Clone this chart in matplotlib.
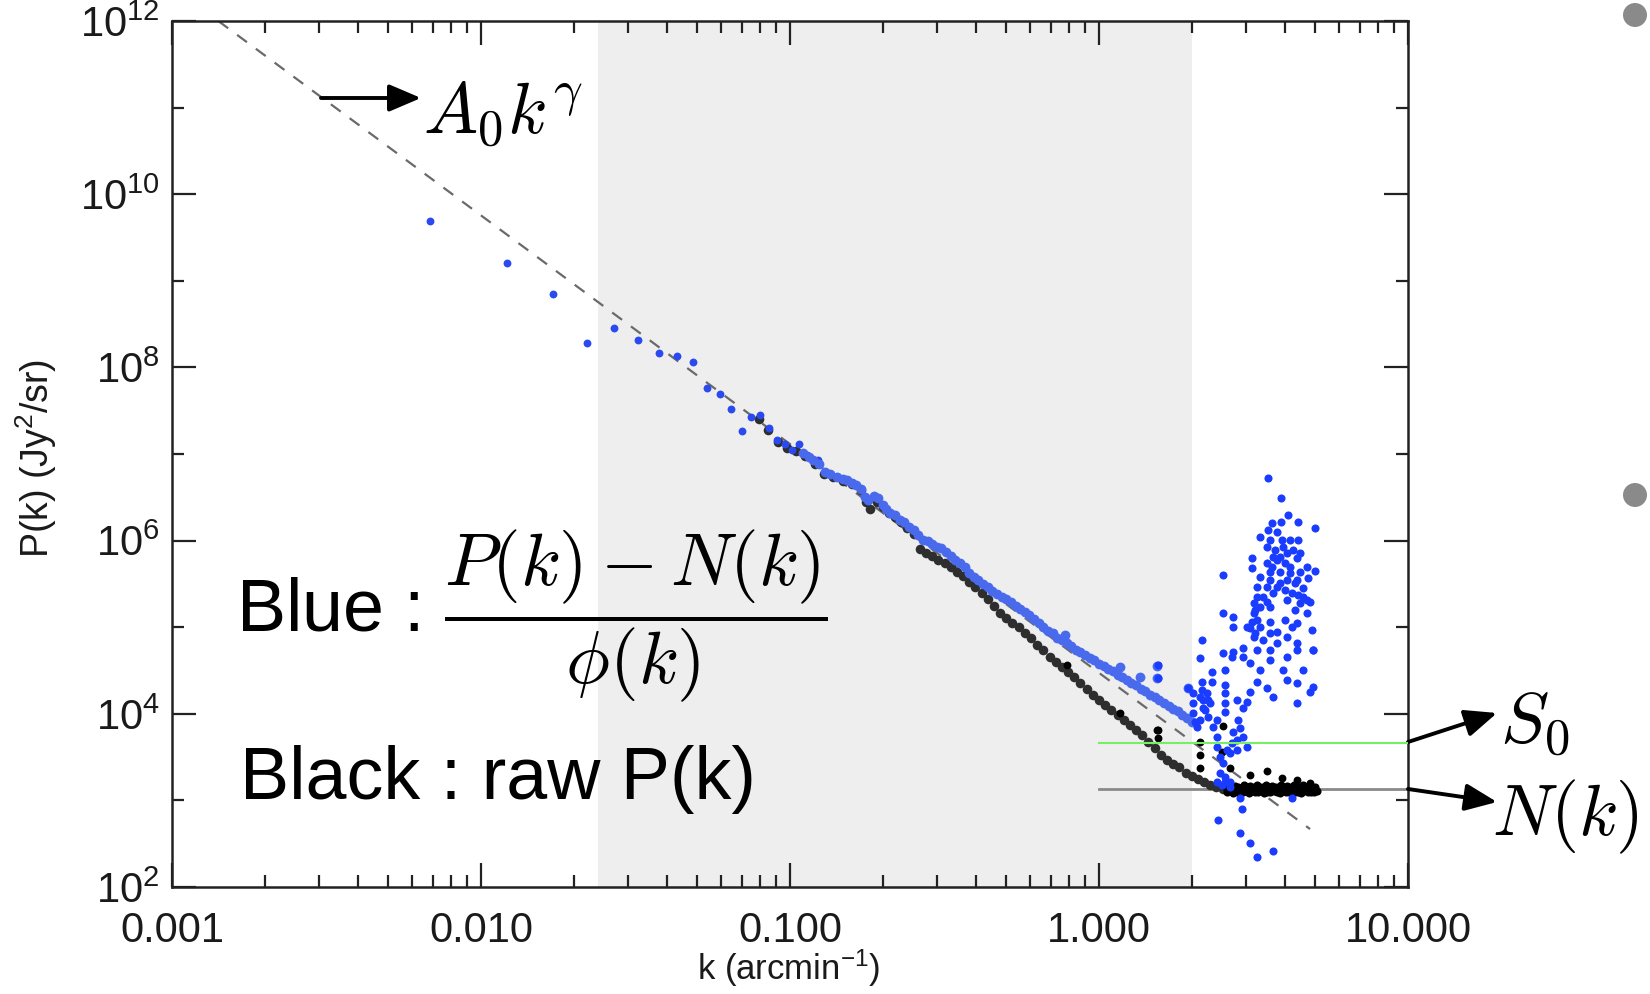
import numpy as np
import matplotlib.pyplot as plt
from matplotlib.ticker import FixedLocator, NullFormatter
from matplotlib.patches import Ellipse

# ---- data (log10 k, log10 P) ----
blue_low_lk = [-2.165, -1.915, -1.766, -1.658, -1.570, -1.491, -1.423, -1.365, -1.315,
               -1.270, -1.227, -1.190, -1.156, -1.126, -1.097, -1.068, -1.041, -1.016,
               -0.995, -0.972, -0.946, -0.925, -0.908]
blue_low_lp = [9.690, 9.202, 8.844, 8.278, 8.451, 8.316, 8.170, 8.135, 8.062,
               7.766, 7.689, 7.516, 7.266, 7.424, 7.450, 7.304, 7.162, 7.115,
               7.046, 7.115, 6.988, 6.931, 6.931]

blue_track_lk = [-0.957, -0.940, -0.925, -0.905, -0.887, -0.870, -0.849, -0.830, -0.815, -0.800,
                 -0.785, -0.770, -0.758, -0.748, -0.728, -0.714, -0.700, -0.690, -0.675, -0.660,
                 -0.645, -0.630, -0.615, -0.600, -0.585, -0.570, -0.555, -0.540, -0.525, -0.510,
                 -0.495, -0.480, -0.465, -0.450, -0.435, -0.420, -0.405, -0.390, -0.375, -0.360,
                 -0.345, -0.330, -0.315, -0.300, -0.285, -0.270, -0.255, -0.240, -0.225, -0.210,
                 -0.195, -0.180, -0.165, -0.150, -0.135, -0.120, -0.105, -0.090, -0.075, -0.060,
                 -0.045, -0.030, -0.015, 0.000, 0.015, 0.030, 0.045, 0.060, 0.075, 0.090,
                 0.105, 0.120, 0.135, 0.150, 0.165, 0.180, 0.195, 0.210, 0.225, 0.240,
                 0.255, 0.270, 0.285, 0.300,
                 -0.110, 0.068, 0.133, 0.189, 0.189, 0.289]
blue_track_lp = [7.01, 6.97, 6.93, 6.88, 6.79, 6.77, 6.74, 6.71, 6.70, 6.67,
                 6.64, 6.60, 6.50, 6.47, 6.51, 6.49, 6.41, 6.36, 6.32, 6.29,
                 6.24, 6.21, 6.16, 6.12, 6.07, 6.01, 5.99, 5.96, 5.93, 5.91,
                 5.87, 5.82, 5.78, 5.74, 5.69, 5.63, 5.58, 5.54, 5.50, 5.46,
                 5.42, 5.38, 5.35, 5.33, 5.29, 5.25, 5.21, 5.17, 5.14, 5.10,
                 5.05, 5.00, 4.96, 4.93, 4.88, 4.85, 4.82, 4.78, 4.74, 4.71,
                 4.68, 4.65, 4.62, 4.58, 4.55, 4.52, 4.49, 4.45, 4.42, 4.39,
                 4.36, 4.33, 4.29, 4.26, 4.22, 4.19, 4.16, 4.13, 4.09, 4.06,
                 4.03, 3.99, 3.95, 3.91,
                 4.910, 4.544, 4.421, 4.552, 4.410, 4.294]

blue_cloud_lk = [0.546, 0.589, 0.613, 0.645, 0.589, 0.699, 0.548, 0.575, 0.618, 0.645,
                 0.543, 0.570, 0.597, 0.629, 0.494, 0.640, 0.543, 0.575, 0.602, 0.494,
                 0.553, 0.586, 0.618, 0.651, 0.699, 0.402, 0.521, 0.553, 0.586, 0.640,
                 0.677, 0.510, 0.543, 0.602, 0.661, 0.564, 0.645, 0.500, 0.543, 0.607,
                 0.683, 0.505, 0.553, 0.634, 0.672, 0.402, 0.435, 0.510, 0.553, 0.602,
                 0.640, 0.435, 0.489, 0.521, 0.575, 0.624, 0.688, 0.332, 0.500, 0.607,
                 0.640, 0.467, 0.553, 0.402, 0.435, 0.694,
                 0.553, 0.564, 0.586, 0.607, 0.559, 0.618, 0.634, 0.607, 0.532, 0.521,
                 0.500, 0.494, 0.478, 0.505, 0.532, 0.575, 0.553, 0.651, 0.661, 0.521,
                 0.559, 0.651, 0.591, 0.575, 0.624, 0.510, 0.672, 0.672,
                 0.327, 0.365, 0.365, 0.408, 0.408, 0.408, 0.408, 0.408, 0.451, 0.456,
                 0.435, 0.467, 0.478, 0.445, 0.424, 0.402, 0.392, 0.381, 0.408, 0.424,
                 0.456, 0.462, 0.386, 0.456, 0.489, 0.510, 0.564, 0.623, 0.332, 0.332,
                 0.338, 0.343, 0.354, 0.327, 0.316, 0.370, 0.381, 0.381, 0.392, 0.467,
                 0.489, 0.521, 0.553, 0.597, 0.607, 0.640, 0.661, 0.694, 0.683, 0.640,
                 0.564, 0.543, 0.510, 0.489, 0.478, 0.445, 0.467, 0.607, 0.640, 0.694,
                 0.429, 0.510,
                 0.305, 0.305, 0.305, 0.327, 0.348, 0.359, 0.338, 0.311, 0.354, 0.381,
                 0.445, 0.429, 0.413, 0.408, 0.397, 0.424, 0.192, 0.192, 0.289]
blue_cloud_lp = [6.719, 6.488, 6.296, 6.219, 6.219, 6.142, 6.122, 6.103, 6.007, 6.007,
                 5.930, 5.892, 5.930, 5.892, 5.795, 5.795, 5.737, 5.776, 5.737, 5.680,
                 5.641, 5.641, 5.622, 5.641, 5.653, 5.603, 5.584, 5.545, 5.507, 5.545,
                 5.564, 5.468, 5.468, 5.430, 5.449, 5.391, 5.372, 5.276, 5.295, 5.314,
                 5.295, 5.199, 5.237, 5.199, 5.160, 5.160, 5.122, 5.083, 5.064, 5.083,
                 5.045, 4.998, 4.987, 5.006, 4.948, 5.006, 4.968, 4.852, 4.891, 4.891,
                 4.814, 4.756, 4.737, 4.698, 4.717, 4.737,
                 6.007, 5.815, 5.815, 5.853, 5.699, 5.699, 5.507, 5.545, 5.353, 5.237,
                 5.160, 5.064, 5.006, 4.929, 4.852, 4.814, 4.929, 5.276, 5.353, 6.045,
                 6.199, 5.853, 6.007, 5.468, 5.391, 5.353, 5.699, 5.314,
                 4.640, 4.487, 4.371, 4.506, 4.333, 4.236, 4.121, 4.025, 3.928, 3.832,
                 3.794, 3.736, 3.620, 3.582, 3.543, 3.428, 3.312, 3.216, 3.274, 3.159,
                 3.024, 2.897, 2.774, 2.620, 2.504, 2.350, 2.416, 3.024, 4.371, 4.275,
                 4.159, 4.044, 3.967, 3.928, 3.851, 3.851, 3.736, 3.620, 3.505, 4.660,
                 4.583, 4.506, 4.621, 4.506, 4.390, 4.352, 4.506, 4.313, 4.256, 4.121,
                 4.198, 4.294, 4.371, 4.256, 4.140, 4.159, 4.063, 4.660, 4.737, 4.737,
                 4.660, 4.737,
                 4.236, 4.121, 4.005, 4.198, 4.236, 4.121, 4.063, 3.909, 4.159, 3.928,
                 3.697, 3.659, 3.582, 3.216, 3.178, 3.216, 4.564, 4.409, 4.294]

black_track_lk = [-1.10, -1.07, -1.04, -1.01, -0.98, -0.95, -0.92, -0.89, -0.86, -0.83,
                  -0.80, -0.77, -0.755, -0.741, -0.72, -0.70, -0.68, -0.66, -0.64, -0.62,
                  -0.60, -0.58, -0.56, -0.54, -0.52, -0.50, -0.48, -0.46, -0.44, -0.42,
                  -0.40, -0.38, -0.36, -0.34, -0.32, -0.30, -0.28, -0.26, -0.24, -0.22,
                  -0.20, -0.18, -0.16, -0.14, -0.12, -0.10, -0.08, -0.06, -0.04, -0.02,
                  0.00, 0.02, 0.04, 0.06, 0.08, 0.10, 0.12, 0.14, 0.16, 0.18,
                  0.20, 0.22, 0.24, 0.26, 0.28, 0.30, 0.32, 0.34, 0.36, 0.38, 0.40]
black_track_lp = [7.40, 7.28, 7.14, 7.07, 7.03, 6.98, 6.89, 6.77, 6.73, 6.69,
                  6.65, 6.58, 6.44, 6.37, 6.45, 6.39, 6.32, 6.27, 6.21, 6.14,
                  6.08, 5.90, 5.86, 5.82, 5.78, 5.74, 5.69, 5.64, 5.59, 5.52,
                  5.46, 5.39, 5.32, 5.25, 5.16, 5.11, 5.05, 5.00, 4.93, 4.88,
                  4.80, 4.74, 4.66, 4.60, 4.54, 4.48, 4.42, 4.35, 4.29, 4.22,
                  4.16, 4.10, 4.04, 3.99, 3.93, 3.87, 3.81, 3.75, 3.67, 3.60,
                  3.53, 3.47, 3.42, 3.38, 3.32, 3.28, 3.25, 3.21, 3.18, 3.15, 3.13]

black_flat_lk = [0.41, 0.42, 0.43, 0.44, 0.45, 0.46, 0.47, 0.48, 0.49, 0.50,
                 0.51, 0.52, 0.53, 0.54, 0.55, 0.56, 0.57, 0.58, 0.59, 0.60,
                 0.61, 0.62, 0.63, 0.64, 0.65, 0.66, 0.67, 0.68, 0.69, 0.70,
                 0.415, 0.425, 0.435, 0.445, 0.455, 0.465, 0.475, 0.485, 0.495, 0.505,
                 0.515, 0.525, 0.535, 0.545, 0.555, 0.565, 0.575, 0.585, 0.595, 0.605,
                 0.615, 0.625, 0.635, 0.645, 0.655, 0.665, 0.675, 0.685, 0.695, 0.705]
black_flat_lp = [3.16, 3.18, 3.15, 3.17, 3.16, 3.14, 3.18, 3.15, 3.17, 3.15,
                 3.18, 3.16, 3.15, 3.18, 3.16, 3.17, 3.15, 3.16, 3.18, 3.15,
                 3.17, 3.15, 3.18, 3.16, 3.15, 3.18, 3.15, 3.17, 3.16, 3.15,
                 3.10, 3.11, 3.09, 3.10, 3.12, 3.10, 3.11, 3.09, 3.11, 3.10,
                 3.10, 3.12, 3.09, 3.10, 3.10, 3.11, 3.10, 3.09, 3.11, 3.10,
                 3.10, 3.12, 3.10, 3.10, 3.09, 3.11, 3.10, 3.10, 3.10, 3.11]

black_extra_lk = [0.402, 0.327, 0.327, 0.397, 0.192, 0.192, -0.105, 0.068, 0.187,
                  0.327, 0.424, 0.489, 0.543, 0.591, 0.640, 0.683]
black_extra_lp = [3.859, 3.678, 3.524, 3.562, 3.813, 3.717, 4.564, 4.013, 3.813,
                  3.371, 3.371, 3.293, 3.343, 3.255, 3.236, 3.197]

# power-law fit A0 k^gamma
log_A0 = 4.473
gamma = -2.641
fit_k_range = [10 ** -2.85, 10 ** 0.683]

band_k = [0.024, 2.0]          # shaded k range
S0_level = 4640.0              # green line
N_level = 1355.0               # grey noise line
level_k = [1.0, 10.0]

x_ticks = [0.001, 0.01, 0.1, 1.0, 10.0]
x_tick_labels = ['0.001', '0.010', '0.100', '1.000', '10.000']
y_ticks = [1e2, 1e4, 1e6, 1e8, 1e10, 1e12]
y_tick_labels = [r'$\mathregular{10^{%d}}$' % e for e in (2, 4, 6, 8, 10, 12)]

# ---- plotting ----
plt.rcParams['mathtext.fontset'] = 'cm'
plt.rcParams['font.family'] = ['Liberation Sans', 'DejaVu Sans']

W, H = 1650, 994
fig = plt.figure(figsize=(W / 100, H / 100), dpi=100)
ax = fig.add_axes([172 / W, 1 - 887 / H, (1408 - 172) / W, (887 - 21) / H])

ax.axvspan(band_k[0], band_k[1], color='#eeeeee', lw=0, zorder=0)

kf = np.array(fit_k_range)
ax.plot(kf, 10 ** log_A0 * kf ** gamma, ls=(0, (5.5, 5.0)), color='#6a6a6a', lw=1.6, zorder=1)

ax.plot(level_k, [N_level, N_level], color='#8a8a8a', lw=2.0, zorder=1)

ax.scatter(10 ** np.array(black_track_lk), 10 ** np.array(black_track_lp), s=48, c='#2e2e2e', lw=0, zorder=2)
ax.scatter(10 ** np.array(black_flat_lk), 10 ** np.array(black_flat_lp), s=34, c='#000000', lw=0, zorder=2)
ax.scatter(10 ** np.array(black_extra_lk), 10 ** np.array(black_extra_lp), s=32, c='#000000', lw=0, zorder=2)

ax.scatter(10 ** np.array(blue_low_lk), 10 ** np.array(blue_low_lp), s=32, c='#2a4af0', lw=0, zorder=3)
ax.scatter(10 ** np.array(blue_track_lk), 10 ** np.array(blue_track_lp), s=50, c='#4a6aee', lw=0, zorder=3)
ax.scatter(10 ** np.array(blue_cloud_lk), 10 ** np.array(blue_cloud_lp), s=34, c='#1a3cff', lw=0, zorder=3)

ax.plot(level_k, [S0_level, S0_level], color='#77ee66', lw=1.5, zorder=4)

ax.set_xscale('log')
ax.set_yscale('log')
ax.set_xlim(1e-3, 10)
ax.set_ylim(1e2, 1e12)

ax.xaxis.set_major_locator(FixedLocator(x_ticks))
ax.set_xticklabels(x_tick_labels)
ax.xaxis.set_minor_locator(FixedLocator([m * 10.0 ** e for e in range(-3, 1) for m in range(2, 10)]))
ax.xaxis.set_minor_formatter(NullFormatter())
ax.yaxis.set_major_locator(FixedLocator(y_ticks))
ax.set_yticklabels(y_tick_labels)
ax.yaxis.set_minor_locator(FixedLocator(10.0 ** np.arange(3, 12, 2)))
ax.yaxis.set_minor_formatter(NullFormatter())

ax.tick_params(which='both', direction='in', top=True, right=True, width=1.6, color='#222222')
ax.tick_params(which='major', length=17, labelsize=30, labelcolor='#1a1a1a')
ax.tick_params(axis='x', which='major', pad=17)
ax.tick_params(axis='y', which='major', pad=9)
ax.tick_params(which='minor', length=8.5)
for sp in ax.spines.values():
    sp.set_linewidth(1.8)
    sp.set_color('#222222')

ax.set_xlabel(r'k (arcmin$\mathregular{^{-1}}$)', fontsize=25, color='#1a1a1a')
ax.set_ylabel(r'P(k) (Jy$\mathregular{^{2}}$/sr)', fontsize=27, color='#1a1a1a')
ax.xaxis.set_label_coords(0.499, -0.07)
ax.yaxis.set_label_coords(-0.0914, 0.495)


def fx(px):
    return px / W


def fy(py):
    return 1 - py / H


fig.text(fx(236), fy(616), r'Blue : $\dfrac{P(k)-N(k)}{\phi(k)}$', fontsize=53,
         va='center', ha='left')
fig.text(fx(240), fy(779), 'Black : raw P(k)', fontsize=53,
         va='center', ha='left')

arrow = dict(arrowstyle='-|>,head_length=0.75,head_width=0.32', lw=2.8, color='black',
             mutation_scale=26, shrinkA=0, shrinkB=0)
fig.text(fx(423), fy(114), r'$A_0k^\gamma$', fontsize=52, va='center', ha='left')
ax.annotate('', xy=(fx(421), fy(98)), xytext=(fx(321), fy(98)),
            xycoords='figure fraction', textcoords='figure fraction', arrowprops=arrow)

fig.text(fx(1500), fy(724), r'$S_0$', fontsize=52, va='center', ha='left')
ax.annotate('', xy=(fx(1497), fy(713)), xytext=(fx(1408), fy(742)),
            xycoords='figure fraction', textcoords='figure fraction', arrowprops=arrow,
            annotation_clip=False)
fig.text(fx(1492), fy(817), r'$N(k)$', fontsize=52, va='center', ha='left')
ax.annotate('', xy=(fx(1497), fy(802)), xytext=(fx(1408), fy(789)),
            xycoords='figure fraction', textcoords='figure fraction', arrowprops=arrow,
            annotation_clip=False)

# slide bullets at the right edge
for by in (15, 495):
    fig.add_artist(Ellipse((fx(1635), fy(by)), 24 / W, 24 / H, transform=fig.transFigure,
                           color='#8a8a8a', lw=0))

fig.savefig('out.png', dpi=100)
